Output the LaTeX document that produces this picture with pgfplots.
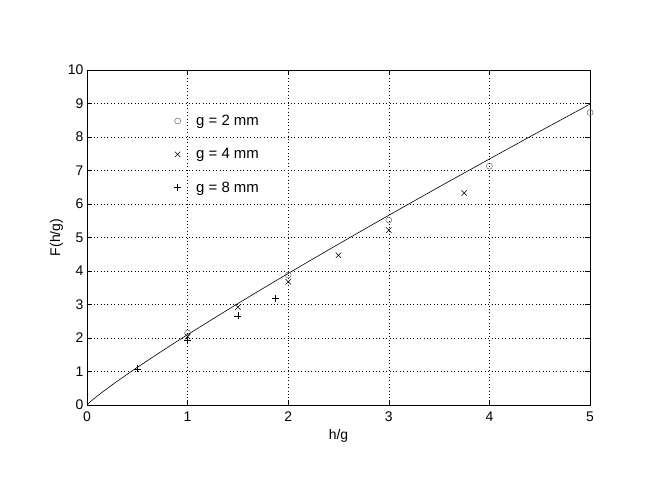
\documentclass[border=0pt]{standalone}
\usepackage{pgfplots}
\pgfplotsset{compat=1.18}
\usepackage{fontspec}
\setmainfont{Liberation Sans}
\begin{document}
\begin{tikzpicture}
\begin{axis}[
  scale only axis,
  width=503bp, height=335bp,
  xmin=0, xmax=5, ymin=0, ymax=10,
  xtick={0,1,2,3,4,5}, ytick={0,1,...,10},
  grid=major,
  major grid style={black, dash pattern=on 0.8bp off 2.6bp, line width=0.5pt},
  tick align=inside,
  tick pos=both,
  major tick length=5bp,
  axis line style={black, line width=0.5pt},
  every tick/.style={black, line width=0.5pt},
  /pgf/number format/assume math mode=true,
  tick label style={font=\fontsize{14}{16}\selectfont},
  xticklabel style={yshift=-3bp},
  label style={font=\fontsize{14}{16}\selectfont},
  xlabel={h/g}, ylabel={F(h/g)},
  xlabel style={yshift=-1bp},
  ylabel style={yshift=-2bp},
  legend style={draw=none, fill=none, at={(0.167,0.878)}, anchor=north west,
    row sep=17.5bp, column sep=13bp, font=\fontsize{15}{17}\selectfont},
  legend cell align=left,
]
\addplot[only marks, mark=o, mark size=3bp, gray!80!black, mark options={line width=0.5pt}]
  coordinates {(1,2.15) (2,3.88) (3,5.52) (4,7.13) (5,8.73)};
\addlegendentry{g = 2 mm}
\addplot[only marks, mark=x, mark size=3.8bp, black, mark options={line width=0.5pt}]
  coordinates {(1,2.04) (1.5,2.92) (2,3.68) (2.5,4.47) (3,5.22) (3.75,6.33)};
\addlegendentry{g = 4 mm}
\addplot[only marks, mark=+, mark size=3.5bp, black, mark options={line width=0.4pt}]
  coordinates {(0.5,1.08) (1,1.92) (1.5,2.66) (1.875,3.18)};
\addlegendentry{g = 8 mm}
\addplot[black, line width=0.6pt, smooth, forget plot] coordinates {
(0,0) (0.02,0.061) (0.05,0.140) (0.1,0.263) (0.2,0.491) (0.3,0.708)
(0.5,1.123) (0.75,1.619) (1,2.1) (1.5,3.028) (2,3.927) (2.5,4.803)
(3,5.663) (3.5,6.510) (4,7.343) (4.5,8.167) (5,8.98)};
\end{axis}
\path[use as bounding box] (-87bp,-86bp) rectangle (567bp,405bp);
\end{tikzpicture}
\end{document}
